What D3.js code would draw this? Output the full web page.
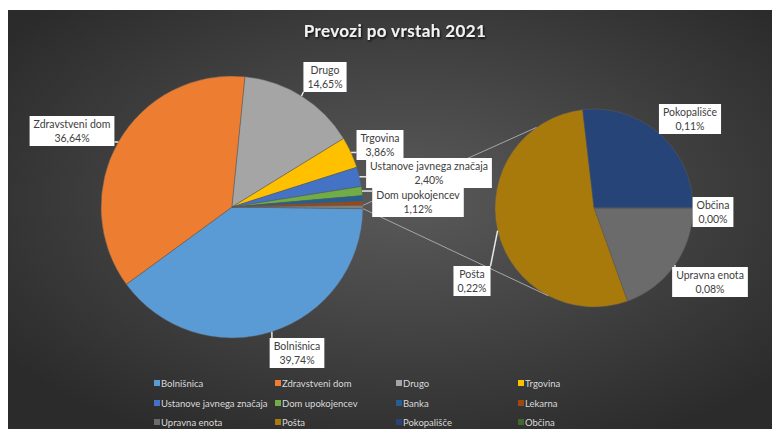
<!DOCTYPE html>
<html><head><meta charset="utf-8">
<script src="https://cdn.jsdelivr.net/npm/d3@7/dist/d3.min.js"></script>
<style>html,body{margin:0;padding:0;background:#fff;}svg{display:block;}</style>
</head><body>
<script>
// ---- data ----
const title = "Prevozi po vrstah 2021";
const mainCategories = ["Bolnišnica","Zdravstveni dom","Drugo","Trgovina","Ustanove javnega značaja","Dom upokojencev","Banka","Lekarna"];
const mainValues = [39.74, 36.64, 14.65, 3.86, 2.40, 1.12, 0.70, 0.48];
const mainColors = ["#5b9bd5","#ed7d31","#a5a5a5","#ffc000","#4472c4","#70ad47","#255e91","#9e480e"];
const otherCategories = ["Upravna enota","Pošta","Pokopališče","Občina"];
const otherValues = [0.08, 0.22, 0.11, 0.00];
const otherColors = ["#6b6b6b","#a87a0c","#264478","#43682b"];
const legendOrder = ["Bolnišnica","Zdravstveni dom","Drugo","Trgovina","Ustanove javnega značaja","Dom upokojencev","Banka","Lekarna","Upravna enota","Pošta","Pokopališče","Občina"];
const labelledMain = ["Bolnišnica","Zdravstveni dom","Drugo","Trgovina","Ustanove javnega značaja","Dom upokojencev"];

// ---- layout ----
const W = 772, H = 429;
const labelPos = { // box centres
  "Drugo":[325,77], "Zdravstveni dom":[72,131], "Trgovina":[380,145],
  "Ustanove javnega značaja":[429,173], "Dom upokojencev":[418,202],
  "Bolnišnica":[297,353], "Pokopališče":[690,119], "Občina":[713,212],
  "Upravna enota":[710,282], "Pošta":[472,281]
};
const fmt = v => v.toFixed(2).replace(".", ",") + "%";

const svg = d3.select("body").append("svg").attr("width", W).attr("height", H)
  .style("font-family", "Lato, 'Open Sans', sans-serif");
const defs = svg.append("defs");
const bg = defs.append("radialGradient").attr("id","bg")
  .attr("cx","52%").attr("cy","45%").attr("r","65%");
bg.append("stop").attr("offset","0%").attr("stop-color","#5a5a5a");
bg.append("stop").attr("offset","100%").attr("stop-color","#2b2b2b");
const sh = defs.append("filter").attr("id","shadow").attr("x","-10%").attr("y","-30%").attr("width","120%").attr("height","160%");
sh.append("feDropShadow").attr("dx",1).attr("dy",1.5).attr("stdDeviation",1).attr("flood-color","#000").attr("flood-opacity",0.8);

svg.append("rect").attr("x",8).attr("y",10).attr("width",W-8).attr("height",H-10).attr("fill","url(#bg)");

svg.append("text").attr("x",395).attr("y",37).attr("text-anchor","middle")
  .attr("fill","#f2f2f2").attr("font-size",17).attr("font-weight","bold")
  .attr("letter-spacing",0.4).attr("filter","url(#shadow)").text(title);

// main pie
const mc = [232,207], mr = 131;
const sc = [594,208], sr = 99;
const otherSum = d3.sum(otherValues);
const mainAll = mainValues.concat([otherSum]);
const total = d3.sum(mainAll);
const otherSpan = otherSum / total * 2 * Math.PI;
const start = Math.PI/2 + otherSpan/2;
const mainArcs = d3.pie().sort(null).startAngle(start).endAngle(start + 2*Math.PI)(mainAll);
const arcM = d3.arc().innerRadius(0).outerRadius(mr);
const gM = svg.append("g").attr("transform",`translate(${mc})`);
gM.selectAll("path").data(mainArcs).join("path")
  .attr("d", arcM)
  .attr("fill", (d,i) => i < mainColors.length ? mainColors[i] : "#7f7f7f")
  .attr("stroke","#5a5a5a").attr("stroke-width",0.5);

// second pie
const secArcs = d3.pie().sort(null).startAngle(Math.PI/2).endAngle(Math.PI/2 + 2*Math.PI)(otherValues);
const arcS = d3.arc().innerRadius(0).outerRadius(sr);
const gS = svg.append("g").attr("transform",`translate(${sc})`);
gS.selectAll("path").data(secArcs).join("path")
  .attr("d", arcS).attr("fill",(d,i)=>otherColors[i])
  .attr("stroke","#5a5a5a").attr("stroke-width",0.5);

// connector lines
const pt = (c, r, a) => [c[0] + r*Math.sin(a), c[1] - r*Math.cos(a)];
const oArc = mainArcs[mainArcs.length-1];
const conn = [[pt(mc,mr,oArc.startAngle), pt(sc,sr,-35.5*Math.PI/180)],
              [pt(mc,mr,oArc.endAngle), pt(sc,sr,207.5*Math.PI/180)]];
svg.selectAll("line.conn").data(conn).join("line").attr("class","conn")
  .attr("x1",d=>d[0][0]).attr("y1",d=>d[0][1]).attr("x2",d=>d[1][0]).attr("y2",d=>d[1][1])
  .attr("stroke","#a6a6a6").attr("stroke-width",1);

// labels
const labels = [];
mainArcs.forEach((a,i) => {
  if (i < mainCategories.length && labelledMain.includes(mainCategories[i]))
    labels.push({name: mainCategories[i], value: mainValues[i], anchor: pt(mc, mr, (a.startAngle+a.endAngle)/2)});
});
secArcs.forEach((a,i) => {
  labels.push({name: otherCategories[i], value: otherValues[i], anchor: pt(sc, sr, (a.startAngle+a.endAngle)/2)});
});
const lg = svg.append("g").attr("font-size",10.5).attr("fill","#404040");
labels.forEach(l => {
  const [cx, cy] = labelPos[l.name];
  const g = lg.append("g");
  const t1 = g.append("text").attr("x",cx).attr("y",cy-3).attr("text-anchor","middle").text(l.name);
  const t2 = g.append("text").attr("x",cx).attr("y",cy+11).attr("text-anchor","middle").text(fmt(l.value));
  const w = Math.max(t1.node().getComputedTextLength(), t2.node().getComputedTextLength()) + 8;
  const h = 30;
  const x0 = cx - w/2, y0 = cy - h/2;
  const nx = Math.max(x0, Math.min(x0+w, l.anchor[0]));
  const ny = Math.max(y0, Math.min(y0+h, l.anchor[1]));
  g.insert("line","text").attr("x1",nx).attr("y1",ny).attr("x2",l.anchor[0]).attr("y2",l.anchor[1])
    .attr("stroke","#e8e8e8").attr("stroke-width",1.5);
  g.insert("rect","text").attr("x",x0).attr("y",y0).attr("width",w).attr("height",h).attr("fill","#ffffff");
});

// legend
const colorOf = {};
mainCategories.forEach((c,i)=>colorOf[c]=mainColors[i]);
otherCategories.forEach((c,i)=>colorOf[c]=otherColors[i]);
const colX = [157, 278, 399, 521], rowY = [383, 403, 422];
const leg = svg.append("g").attr("font-size",9.5).attr("fill","#d9d9d9");
legendOrder.forEach((name,i) => {
  const x = colX[i%4], y = rowY[Math.floor(i/4)];
  leg.append("rect").attr("x",x-3).attr("y",y-3).attr("width",6).attr("height",6).attr("fill",colorOf[name]);
  leg.append("text").attr("x",x+4).attr("y",y+3.5).text(name);
});
</script>
</body></html>
